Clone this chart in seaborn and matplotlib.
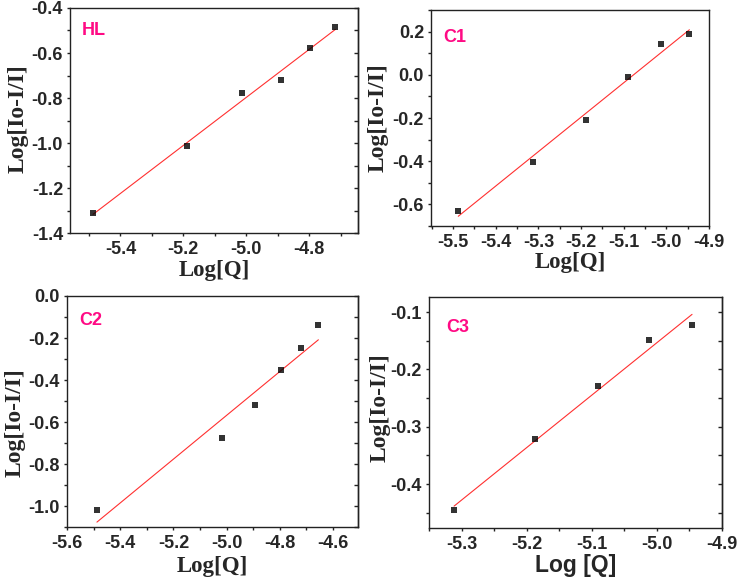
import numpy as np
import pandas as pd
import matplotlib
matplotlib.use("Agg")
import matplotlib.pyplot as plt
from matplotlib.ticker import MultipleLocator
import seaborn as sns

sns.set_theme(style="white")
plt.rcParams.update({
    'font.family': ['Liberation Sans', 'DejaVu Sans'],
    'font.weight': 'bold',
    'axes.unicode_minus': False,
    'axes.edgecolor': '#222222',
    'axes.linewidth': 1.0,
    'xtick.labelsize': 13,
    'ytick.labelsize': 13,
})

# data
hl_logq = [-5.487, -5.188, -5.014, -4.891, -4.796, -4.717]
hl_logi = [-1.313, -1.012, -0.778, -0.721, -0.576, -0.483]

c1_logq = [-5.488, -5.3125, -5.1875, -5.091, -5.012, -4.946]
c1_logi = [-0.629, -0.405, -0.208, -0.008, 0.143, 0.191]

c2_logq = [-5.4875, -5.016, -4.8925, -4.796, -4.720, -4.655]
c2_logi = [-1.021, -0.676, -0.521, -0.354, -0.249, -0.137]

c3_logq = [-5.3115, -5.187, -5.090, -5.012, -4.946]
c3_logi = [-0.446, -0.3215, -0.229, -0.149, -0.122]

PINK = '#ff0a84'

fig = plt.figure(figsize=(7.38, 5.88), dpi=100)

panels = [
    dict(name='HL', x=hl_logq, y=hl_logi, rect=[0.0949, 0.6037, 0.3902, 0.3827],
         xlim=(-5.56, -4.645), ylim=(-1.4, -0.4), xt=(0.2, 0.1), yt=(0.2, 0.1),
         right=True, xlabel='Log[Q]', serif_x=True, tag=(0.04, 0.90),
         xl=-0.165, yl=(-0.18, 0.51)),
    dict(name='C1', x=c1_logq, y=c1_logi, rect=[0.5840, 0.6156, 0.3767, 0.3673],
         xlim=(-5.552, -4.9), ylim=(-0.7, 0.3), xt=(0.1, 0.05), yt=(0.2, 0.1),
         right=False, xlabel='Log[Q]', serif_x=True, tag=(0.043, 0.875),
         xl=-0.167, yl=(-0.19, 0.5)),
    dict(name='C2', x=c2_logq, y=c2_logi, rect=[0.0908, 0.1037, 0.3943, 0.3929],
         xlim=(-5.6, -4.506), ylim=(-1.1, 0.0), xt=(0.2, 0.1), yt=(0.2, 0.1),
         right=True, xlabel='Log[Q]', serif_x=True, tag=(0.041, 0.896),
         xl=-0.172, yl=(-0.179, 0.45)),
    dict(name='C3', x=c3_logq, y=c3_logi, rect=[0.5813, 0.1020, 0.3970, 0.3929],
         xlim=(-5.35, -4.9), ylim=(-0.4767, -0.0738), xt=(0.1, 0.05), yt=(0.1, 0.05),
         right=True, xlabel='Log [Q]', serif_x=False, tag=(0.058, 0.866),
         xl=-0.163, yl=(-0.167, 0.52)),
]

for p in panels:
    ax = fig.add_axes(p['rect'])
    df = pd.DataFrame({'logq': p['x'], 'logi': p['y']})
    sns.regplot(data=df, x='logq', y='logi', ax=ax, ci=None, truncate=True,
                marker='s',
                scatter_kws=dict(color='black', s=24, linewidths=0, zorder=3),
                line_kws=dict(color='#ff3030', lw=0.8, zorder=2))
    ax.set_xlim(p['xlim'])
    ax.set_ylim(p['ylim'])
    ax.xaxis.set_major_locator(MultipleLocator(p['xt'][0]))
    ax.xaxis.set_minor_locator(MultipleLocator(p['xt'][1]))
    ax.yaxis.set_major_locator(MultipleLocator(p['yt'][0]))
    ax.yaxis.set_minor_locator(MultipleLocator(p['yt'][1]))
    ax.tick_params(which='both', direction='out', bottom=True, left=True,
                   top=False, right=False, color='#222222', width=1.0,
                   length=2.5)
    ax.tick_params(axis='x', which='major', pad=3)
    ax.tick_params(axis='y', which='major', pad=2.5)

    if p['right']:
        sec = ax.secondary_yaxis('right')
        sec.yaxis.set_major_locator(MultipleLocator(p['yt'][0]))
        sec.yaxis.set_minor_locator(MultipleLocator(p['yt'][1]))
        sec.tick_params(which='both', direction='in', labelright=False,
                        color='#222222', width=1.0, length=3)

    xfam = ['Liberation Serif', 'DejaVu Serif'] if p['serif_x'] else ['Liberation Sans', 'DejaVu Sans']
    ax.set_xlabel(p['xlabel'], fontsize=16.5, fontweight='bold', family=xfam)
    ax.xaxis.label.set_va('center')
    ax.xaxis.set_label_coords(0.5, p['xl'])
    ax.set_ylabel('Log[Io-I/I]', fontsize=17, fontweight='bold',
                  family=['Liberation Serif', 'DejaVu Serif'])
    ax.yaxis.label.set_va('center')
    ax.yaxis.set_label_coords(*p['yl'])

    ax.text(p['tag'][0], p['tag'][1], p['name'], transform=ax.transAxes,
            color=PINK, fontsize=13, fontweight='bold', ha='left', va='center')

    # make the tick labels heavy and large like in the original figure
    for t in ax.xaxis.get_major_ticks() + ax.yaxis.get_major_ticks():
        t.label1.set_fontsize(13)
        t.label1.set_fontweight('heavy')

fig.savefig('out.png', dpi=100)
